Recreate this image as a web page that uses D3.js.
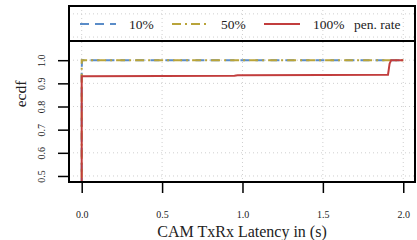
<!DOCTYPE html>
<html>
<head>
<meta charset="utf-8">
<script src="https://cdn.jsdelivr.net/npm/d3@7"></script>
<style>
	body { margin: 0; background: #fff; }
	svg text { font-family: "Times New Roman", "Liberation Serif", Times, serif !important; fill: #222; }
</style>
</head>
<body>
<svg width="417" height="240"></svg>
<script>
// ecdf data
const seriesNames = ["10%", "50%", "100%"];
const lat10 = [0, 0, 0.002, 2.0];
const ecdf10 = [0.0, 0.96, 1.0, 1.0];
const lat50 = [0, 0, 2.0];
const ecdf50 = [0.0, 1.0, 1.0];
const lat100 = [0, 0, 0.5, 0.95, 0.97, 1.5, 1.905, 1.915, 1.925, 2.0];
const ecdf100 = [0.0, 0.931, 0.932, 0.933, 0.935, 0.936, 0.937, 0.985, 1.0, 1.0];
const xTicks = [0, 0.5, 1, 1.5, 2];
const yTicks = [0.5, 0.6, 0.7, 0.8, 0.9, 1.0];
const gridY = [0.5, 0.6, 0.7, 0.8, 0.9, 1.0, 1.1, 1.2];

const colors = ["#5a8cc8", "#b9a43a", "#c23d3d"];
const dashes = ["9,6", "9,4,2,4", null];

const svg = d3.select("svg");
const pLeft = 69, pRight = 415, pTop = 6, pBottom = 182;

const x = d3.scaleLinear().domain([-0.079, 2.073]).range([pLeft, pRight]);
const y = d3.scaleLinear().domain([0.474, 1.234]).range([pBottom, pTop]);

svg.append("clipPath").attr("id", "clip")
	.append("rect").attr("x", pLeft).attr("y", pTop).attr("width", pRight - pLeft).attr("height", pBottom - pTop);

// dotted grid
const grid = svg.append("g").attr("stroke", "#cfcfcf").attr("stroke-width", 1).attr("stroke-dasharray", "1,3");
grid.selectAll(".gx").data(xTicks).join("line").attr("class", "gx")
	.attr("x1", d => x(d)).attr("x2", d => x(d))
	.attr("y1", pTop).attr("y2", pBottom);
grid.selectAll(".gy").data(gridY).join("line").attr("class", "gy")
	.attr("x1", pLeft).attr("x2", pRight)
	.attr("y1", d => y(d)).attr("y2", d => y(d));

// lines, red drawn last like the original
const line = d3.line().x(d => x(d[0])).y(d => y(d[1]));
const series = [
	d3.zip(lat10, ecdf10),
	d3.zip(lat50, ecdf50),
	d3.zip(lat100, ecdf100)
];
svg.append("g").attr("clip-path", "url(#clip)")
	.selectAll("path").data([0, 1, 2]).join("path")
	.attr("d", i => line(series[i]))
	.attr("fill", "none")
	.attr("stroke", i => colors[i])
	.attr("stroke-width", 2)
	.attr("stroke-dasharray", i => dashes[i]);

// axes
const xAxis = svg.append("g").attr("transform", `translate(0,${pBottom})`)
	.call(d3.axisBottom(x).tickValues(xTicks).tickSize(11).tickPadding(18).tickFormat(d3.format(".1f")));
const yAxis = svg.append("g").attr("transform", `translate(${pLeft},0)`)
	.call(d3.axisLeft(y).tickValues(yTicks).tickSize(11).tickFormat(d3.format(".1f")));
[xAxis, yAxis].forEach(a => {
	a.attr("font-family", null);
	a.select(".domain").remove();
	a.selectAll(".tick line").attr("stroke", "#000").attr("stroke-width", 1.5);
	a.selectAll("text").attr("font-size", 10).attr("fill", "#222");
});
yAxis.selectAll(".tick text")
	.attr("x", null).attr("dy", null)
	.attr("text-anchor", "middle")
	.attr("transform", "translate(-24,0) rotate(-90)");

// box and legend divider
svg.append("rect").attr("x", pLeft).attr("y", pTop).attr("width", pRight - pLeft).attr("height", pBottom - pTop)
	.attr("fill", "none").attr("stroke", "#000").attr("stroke-width", 2);
svg.append("line").attr("x1", pLeft).attr("x2", pRight).attr("y1", 41).attr("y2", 41)
	.attr("stroke", "#000").attr("stroke-width", 2);

// legend
const legX = [80, 172, 264];
const leg = svg.append("g");
leg.selectAll("line").data(seriesNames).join("line")
	.attr("x1", (d, i) => legX[i]).attr("x2", (d, i) => legX[i] + 36)
	.attr("y1", 24).attr("y2", 24)
	.attr("stroke", (d, i) => colors[i]).attr("stroke-width", 2)
	.attr("stroke-dasharray", (d, i) => dashes[i]);
leg.selectAll("text").data(seriesNames).join("text")
	.attr("x", (d, i) => legX[i] + 49).attr("y", 29)
	.attr("font-size", 13.5)
	.text(d => d);
leg.append("text").attr("x", 354).attr("y", 29).attr("font-size", 13.5).text("pen. rate");

// axis titles
svg.append("text").attr("x", (pLeft + pRight) / 2).attr("y", 237)
	.attr("text-anchor", "middle").attr("font-size", 16)
	.text("CAM TxRx Latency in (s)");
svg.append("text").attr("transform", `translate(26,${(pTop + pBottom) / 2}) rotate(-90)`)
	.attr("text-anchor", "middle").attr("font-size", 15.5)
	.text("ecdf");
</script>
</body>
</html>
